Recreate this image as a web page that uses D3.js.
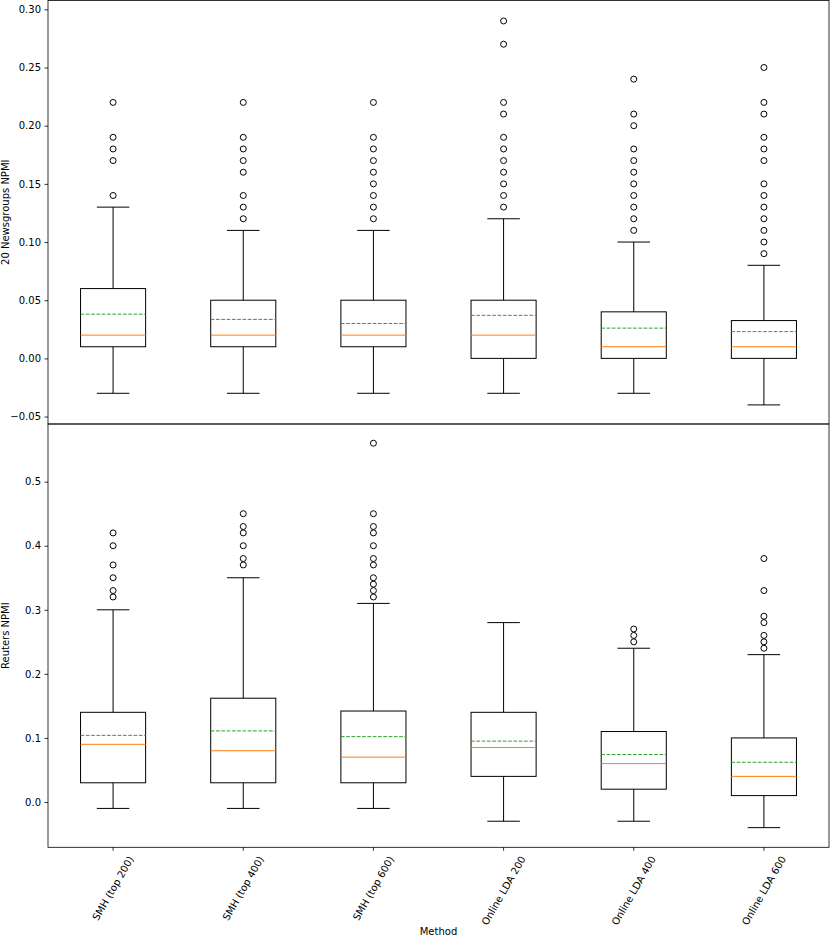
<!DOCTYPE html>
<html>
<head>
<meta charset="utf-8">
<script src="https://cdn.jsdelivr.net/npm/d3@7"></script>
<style>
html, body { margin: 0; padding: 0; background: #fff; }
svg { display: block; }
text { font-family: "DejaVu Sans", sans-serif; fill: #000; }
</style>
</head>
<body>
<svg id="chart" width="830" height="938"></svg>
<script>
const methods = ["SMH (top 200)", "SMH (top 400)", "SMH (top 600)", "Online LDA 200", "Online LDA 400", "Online LDA 600"];

// 20 Newsgroups NPMI
const ngQ1 = [0.01, 0.01, 0.01, 0.00, 0.00, 0.00];
const ngMedian = [0.02, 0.02, 0.02, 0.02, 0.01, 0.01];
const ngQ3 = [0.06, 0.05, 0.05, 0.05, 0.04, 0.0325];
const ngWhiskerLow = [-0.03, -0.03, -0.03, -0.03, -0.03, -0.04];
const ngWhiskerHigh = [0.13, 0.11, 0.11, 0.12, 0.10, 0.08];
const ngMean = [0.038, 0.0335, 0.030, 0.037, 0.026, 0.023];
const ngOutliers = [
  [0.14, 0.17, 0.18, 0.19, 0.22],
  [0.12, 0.13, 0.14, 0.16, 0.17, 0.18, 0.19, 0.22],
  [0.12, 0.13, 0.14, 0.15, 0.16, 0.17, 0.18, 0.19, 0.22],
  [0.13, 0.14, 0.15, 0.16, 0.17, 0.18, 0.19, 0.21, 0.22, 0.27, 0.29],
  [0.11, 0.12, 0.13, 0.14, 0.15, 0.16, 0.17, 0.18, 0.20, 0.21, 0.24],
  [0.09, 0.10, 0.11, 0.12, 0.13, 0.14, 0.15, 0.17, 0.18, 0.19, 0.21, 0.22, 0.25]
];
const ngTicks = [-0.05, 0.00, 0.05, 0.10, 0.15, 0.20, 0.25, 0.30];

// Reuters NPMI
const rtQ1 = [0.03, 0.03, 0.03, 0.04, 0.02, 0.01];
const rtMedian = [0.09, 0.08, 0.07, 0.085, 0.06, 0.04];
const rtQ3 = [0.14, 0.162, 0.142, 0.14, 0.11, 0.10];
const rtWhiskerLow = [-0.01, -0.01, -0.01, -0.03, -0.03, -0.04];
const rtWhiskerHigh = [0.30, 0.35, 0.31, 0.28, 0.24, 0.23];
const rtMean = [0.104, 0.111, 0.102, 0.095, 0.074, 0.062];
const rtOutliers = [
  [0.32, 0.33, 0.35, 0.37, 0.40, 0.42],
  [0.37, 0.38, 0.40, 0.42, 0.43, 0.45],
  [0.32, 0.33, 0.34, 0.35, 0.37, 0.38, 0.40, 0.42, 0.43, 0.45, 0.56],
  [],
  [0.25, 0.26, 0.27],
  [0.24, 0.25, 0.26, 0.28, 0.29, 0.33, 0.38]
];
const rtTicks = [0.0, 0.1, 0.2, 0.3, 0.4, 0.5];

const svg = d3.select("#chart");
const left = 48, right = 829;

const x = d3.scaleLinear().domain([0.5, methods.length + 0.5]).range([left, right]);
const unit = x(1) - x(0);

const minus = s => s.replace("-", "\u2212");

function panel(cfg) {
  const y = d3.scaleLinear().domain(cfg.domain).range([cfg.bottom, cfg.top]);
  const g = svg.append("g");

  // y axis
  const yAxis = d3.axisLeft(y).tickValues(cfg.ticks).tickSize(3.5).tickPadding(3.5)
    .tickFormat(d => minus(d3.format(cfg.fmt)(d)));
  const ya = g.append("g").attr("transform", `translate(${left},0)`).call(yAxis);
  ya.select(".domain").remove();
  ya.selectAll("text").style("font-size", "10px").style("font-family", "DejaVu Sans, sans-serif");
  ya.selectAll("line").attr("stroke", "#000").attr("stroke-width", 0.8);

  const data = methods.map((m, i) => ({
    i: i + 1, q1: cfg.q1[i], med: cfg.median[i], q3: cfg.q3[i],
    lo: cfg.wlo[i], hi: cfg.whi[i], mean: cfg.mean[i], out: cfg.out[i]
  }));

  const bw = unit * 0.5, cw = unit * 0.25;
  const b = g.selectAll("g.box").data(data).join("g").attr("class", "box");

  // whiskers
  b.append("line").attr("x1", d => x(d.i)).attr("x2", d => x(d.i))
    .attr("y1", d => y(d.q1)).attr("y2", d => y(d.lo)).attr("stroke", "#000").attr("stroke-width", 1);
  b.append("line").attr("x1", d => x(d.i)).attr("x2", d => x(d.i))
    .attr("y1", d => y(d.q3)).attr("y2", d => y(d.hi)).attr("stroke", "#000").attr("stroke-width", 1);
  // caps
  b.append("line").attr("x1", d => x(d.i) - cw / 2).attr("x2", d => x(d.i) + cw / 2)
    .attr("y1", d => y(d.lo)).attr("y2", d => y(d.lo)).attr("stroke", "#000").attr("stroke-width", 1);
  b.append("line").attr("x1", d => x(d.i) - cw / 2).attr("x2", d => x(d.i) + cw / 2)
    .attr("y1", d => y(d.hi)).attr("y2", d => y(d.hi)).attr("stroke", "#000").attr("stroke-width", 1);
  // box
  b.append("rect").attr("x", d => x(d.i) - bw / 2).attr("width", bw)
    .attr("y", d => y(d.q3)).attr("height", d => y(d.q1) - y(d.q3))
    .attr("fill", "none").attr("stroke", "#000").attr("stroke-width", 1);
  // median
  b.append("line").attr("x1", d => x(d.i) - bw / 2).attr("x2", d => x(d.i) + bw / 2)
    .attr("y1", d => y(d.med)).attr("y2", d => y(d.med)).attr("stroke", "#ff7f0e").attr("stroke-width", 1);
  // mean line
  b.append("line").attr("x1", d => x(d.i) - bw / 2).attr("x2", d => x(d.i) + bw / 2)
    .attr("y1", d => y(d.mean)).attr("y2", d => y(d.mean)).attr("stroke", "#2ca02c").attr("stroke-width", 1)
    .attr("stroke-dasharray", "3.7,1.6");
  // outliers
  b.selectAll("circle").data(d => d.out.map(v => ({ i: d.i, v }))).join("circle")
    .attr("cx", d => x(d.i)).attr("cy", d => y(d.v)).attr("r", 3)
    .attr("fill", "none").attr("stroke", "#000").attr("stroke-width", 1);

  // frame
  g.append("rect").attr("x", left).attr("y", cfg.top).attr("width", right - left)
    .attr("height", cfg.bottom - cfg.top).attr("fill", "none").attr("stroke", "#000").attr("stroke-width", 0.8);

  // y label
  g.append("text").attr("transform", `translate(9,${(cfg.top + cfg.bottom) / 2}) rotate(-90)`)
    .attr("text-anchor", "middle").style("font-size", "10px").text(cfg.label);
  return y;
}

panel({
  top: 0.5, bottom: 424, domain: [-0.0564, 0.3076], ticks: ngTicks, fmt: ".2f",
  q1: ngQ1, median: ngMedian, q3: ngQ3, wlo: ngWhiskerLow, whi: ngWhiskerHigh, mean: ngMean, out: ngOutliers,
  label: "20 Newsgroups NPMI"
});
panel({
  top: 424, bottom: 847.3, domain: [-0.0707, 0.590], ticks: rtTicks, fmt: ".1f",
  q1: rtQ1, median: rtMedian, q3: rtQ3, wlo: rtWhiskerLow, whi: rtWhiskerHigh, mean: rtMean, out: rtOutliers,
  label: "Reuters NPMI"
});

// x ticks and rotated labels
const bottom = 847.3;
const xt = svg.append("g");
methods.forEach((m, k) => {
  const cx = x(k + 1);
  xt.append("line").attr("x1", cx).attr("x2", cx).attr("y1", bottom).attr("y2", bottom + 3.5)
    .attr("stroke", "#000").attr("stroke-width", 0.8);
  const t = xt.append("text").style("font-size", "10px").attr("text-anchor", "middle")
    .attr("dominant-baseline", "central").text(m);
  const bb = t.node().getBBox();
  const a = Math.PI / 3;
  const H = bb.width * Math.sin(a) + bb.height * Math.cos(a);
  const top = bottom + 3.5 + 3.5;
  t.attr("transform", `translate(${cx},${top + H / 2}) rotate(-60)`);
});

svg.append("text").attr("x", (left + right) / 2).attr("y", 935).attr("text-anchor", "middle")
  .style("font-size", "10px").text("Method");
</script>
</body>
</html>
